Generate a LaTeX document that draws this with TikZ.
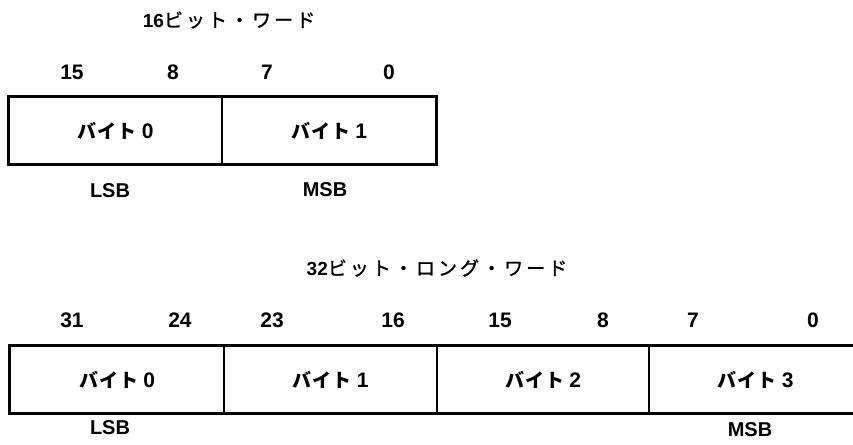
\documentclass[tikz,border=0pt]{standalone}
\usepackage{fontspec}
\setmainfont{Liberation Sans}
\newfontfamily\jp{Noto Sans CJK JP}[LetterSpace=6]
\newfontfamily\jpwide{Noto Sans CJK JP}[LetterSpace=16, FakeBold=1.2]
\newcommand\byte[1]{{\jp\bfseries\fontsize{19}{22}\selectfont バイト}\hspace{5pt}#1}
\newcommand\jtitle[1]{{\jpwide\mdseries\fontsize{19}{22}\selectfont #1}}
\begin{document}
\begin{tikzpicture}[x=1pt,y=-1pt,
  cell/.style={draw, line width=1.2pt, minimum height=67pt, inner sep=0pt,
    font=\bfseries\fontsize{21}{24}\selectfont},
  frame/.style={line width=2.6pt, line join=miter},
  bit/.style={font=\bfseries\fontsize{21}{24}\selectfont},
  tag/.style={font=\bfseries\fontsize{20}{22}\selectfont},
  title/.style={font=\bfseries\fontsize{19}{22}\selectfont}]
\useasboundingbox (0,0) rectangle (853,444);

% 16-bit word
\node[title] (t16) at (229,20) {16\jtitle{ビット・ワード}};
\node[bit] (b15) at (72,72) {15};
\node[bit] (b8)  at (173,72) {8};
\node[bit] (b7)  at (267,72) {7};
\node[bit] (b0)  at (389,72) {0};
\node[cell, minimum width=213pt] (w0) at (115.5,130.5) {\byte{0}};
\node[cell, minimum width=214pt] (w1) at (329,130.5) {\byte{1}};
\draw[frame] (w0.north west) rectangle (w1.south east);
\node[tag] (lsb1) at (110,191) {LSB};
\node[tag] (msb1) at (325,190) {MSB};

% 32-bit long word
\node[title] (t32) at (437,268) {32\jtitle{ビット・ロング・ワード}};
\node[bit] (c31) at (72,320) {31};
\node[bit] (c24) at (180,320) {24};
\node[bit] (c23) at (272,320) {23};
\node[bit] (c16) at (393,320) {16};
\node[bit] (c15) at (500,320) {15};
\node[bit] (c8)  at (603,320) {8};
\node[bit] (c7)  at (693,320) {7};
\node[bit] (c0)  at (813,320) {0};
\node[cell, minimum width=214pt] (l0) at (117,379.5) {\byte{0}};
\node[cell, minimum width=213pt] (l1) at (330.5,379.5) {\byte{1}};
\node[cell, minimum width=212pt] (l2) at (543,379.5) {\byte{2}};
\node[cell, minimum width=213pt] (l3) at (755.5,379.5) {\byte{3}};
\draw[frame] (l3.north east) -- (l0.north west) -- (l0.south west) -- (l3.south east);
\node[tag] (lsb2) at (110,428) {LSB};
\node[tag] (msb2) at (750,430) {MSB};
\end{tikzpicture}
\end{document}
